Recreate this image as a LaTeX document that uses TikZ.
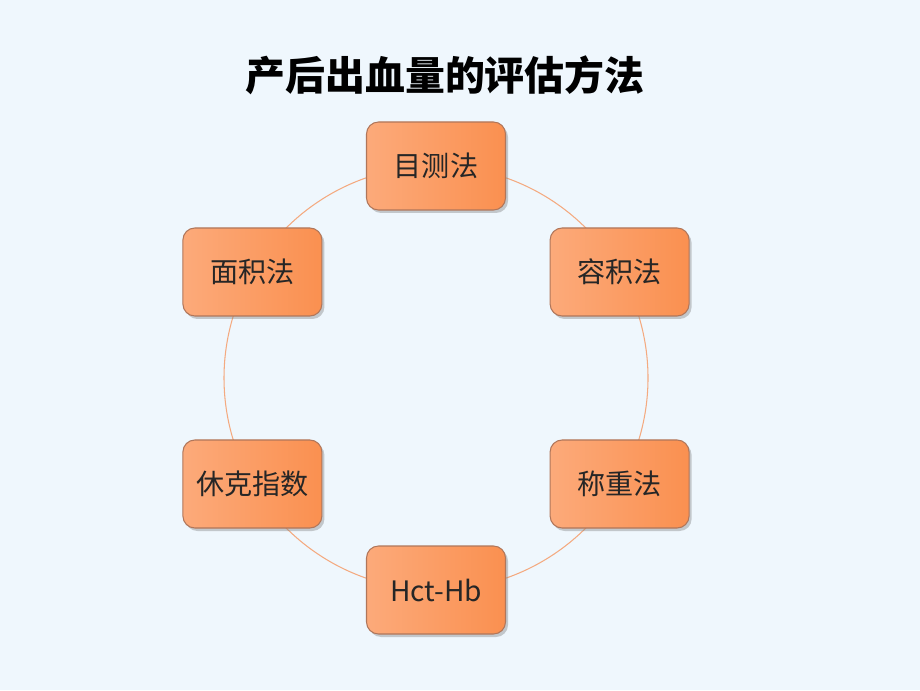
\documentclass[tikz,border=0pt]{standalone}
\usepackage{fontspec}
\newfontfamily\cjk{Noto Sans CJK SC}
\usetikzlibrary{calc,shadows}
\definecolor{bgblue}{RGB}{239,247,253}
\definecolor{boxleft}{RGB}{252,170,122}
\definecolor{boxlight}{RGB}{255,208,176}
\definecolor{boxdark}{RGB}{250,144,80}
\definecolor{boxline}{RGB}{176,118,90}
\definecolor{ringline}{RGB}{244,170,128}
\def\ringarc(#1)(#2:#3:#4){\draw[ring] ($(#1)+({#4*cos(#2)},{#4*sin(#2)})$) arc (#2:#3:#4);}
\tikzset{
	method/.style={draw=boxline, line width=0.6pt, rounded corners=0.24cm,
		left color=boxleft, middle color=boxlight, right color=boxdark,
		minimum width=2.78cm, minimum height=1.76cm,
		font=\cjk\fontsize{16}{18}\selectfont, text=black!85,
		drop shadow={opacity=0.4, shadow xshift=0.05cm, shadow yshift=-0.06cm}},
	ring/.style={draw=ringline, line width=0.6pt}
}

\begin{document}
\begin{tikzpicture}
		%%%%% START %%%%%
		\fill[bgblue] (0, 0) rectangle (18.4, 13.8);
		\useasboundingbox (0, 0) rectangle (18.4, 13.8);
		
		\node[font=\cjk\bfseries\fontsize{22.7}{26}\selectfont] (title) at (8.9, 12.3) {产后出血量的评估方法};
		
		% ring behind the methods
		\coordinate (ctr) at (8.72, 6.24);
		\ringarc(ctr)(90:30:4.24);
		\ringarc(ctr)(30:-30:4.24);
		\ringarc(ctr)(-30:-90:4.24);
		\ringarc(ctr)(-90:-150:4.24);
		\ringarc(ctr)(-150:-210:4.24);
		\ringarc(ctr)(150:90:4.24);
		
		\node[method] (mucefa) at ($(ctr)+(90:4.24)$) {目测法};
		\node[method] (rongji) at ($(ctr)+(30:4.24)$) {容积法};
		\node[method] (chengzhong) at ($(ctr)+(-30:4.24)$) {称重法};
		\node[method] (hcthb) at ($(ctr)+(-90:4.24)$) {Hct-Hb};
		\node[method] (xiuke) at ($(ctr)+(-150:4.24)$) {休克指数};
		\node[method] (mianji) at ($(ctr)+(150:4.24)$) {面积法};
		%%%%% END %%%%%
	\end{tikzpicture}
\end{document}
